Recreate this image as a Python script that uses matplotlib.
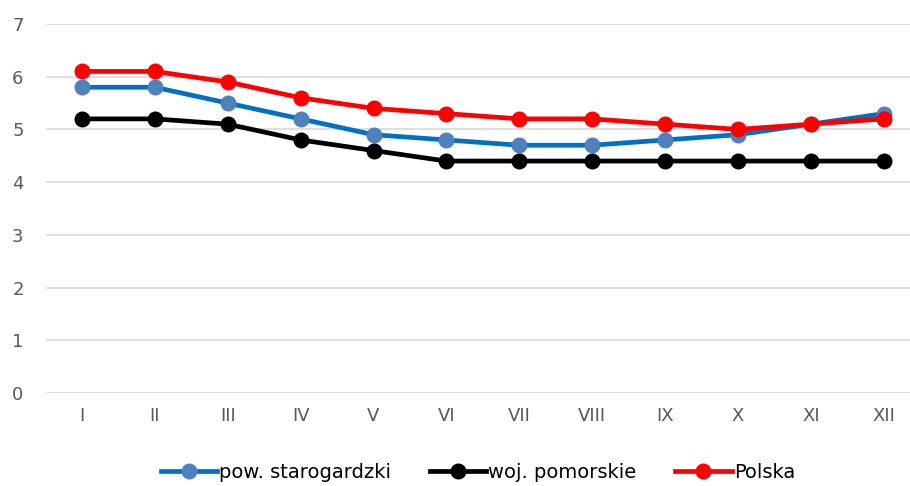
import matplotlib.pyplot as plt

months = ['I', 'II', 'III', 'IV', 'V', 'VI', 'VII', 'VIII', 'IX', 'X', 'XI', 'XII']
pow_starogardzki = [5.8, 5.8, 5.5, 5.2, 4.9, 4.8, 4.7, 4.7, 4.8, 4.9, 5.1, 5.3]
woj_pomorskie = [5.2, 5.2, 5.1, 4.8, 4.6, 4.4, 4.4, 4.4, 4.4, 4.4, 4.4, 4.4]
polska = [6.1, 6.1, 5.9, 5.6, 5.4, 5.3, 5.2, 5.2, 5.1, 5.0, 5.1, 5.2]

plt.rcParams['font.family'] = ['DejaVu Sans']

fig = plt.figure(figsize=(9.1, 4.86), dpi=100)
ax = fig.add_axes([0.05, 0.1914, 0.95, 0.7592])

x = range(len(months))
ax.plot(x, pow_starogardzki, color='#0070C0', lw=3.4, marker='o', ms=10.5,
        mfc='#4F81BD', mec='#4F81BD', label='pow. starogardzki', zorder=3)
ax.plot(x, woj_pomorskie, color='black', lw=3.4, marker='o', ms=10.5,
        label='woj. pomorskie', zorder=3)
ax.plot(x, polska, color='#FF0000', lw=3.4, marker='o', ms=10.5,
        label='Polska', zorder=4)

ax.set_ylim(0, 7)
ax.set_xlim(-0.5, 11.36)
ax.set_yticks(range(8))
ax.set_xticks(list(x))
ax.set_xticklabels(months)
ax.grid(axis='y', color='#D9D9D9', lw=1.2)
ax.set_axisbelow(True)
for s in ax.spines.values():
    s.set_visible(False)
ax.tick_params(length=0, labelsize=13, colors='#595959', pad=10)
ax.tick_params(axis='y', pad=24)
for lbl in ax.get_yticklabels():
    lbl.set_horizontalalignment('left')

ax.legend(loc='center', bbox_to_anchor=(0.5, -0.215), ncol=3, frameon=False,
          fontsize=14, handlelength=2.9, columnspacing=2.0, handletextpad=0.1)

fig.savefig('out.png', dpi=100)
